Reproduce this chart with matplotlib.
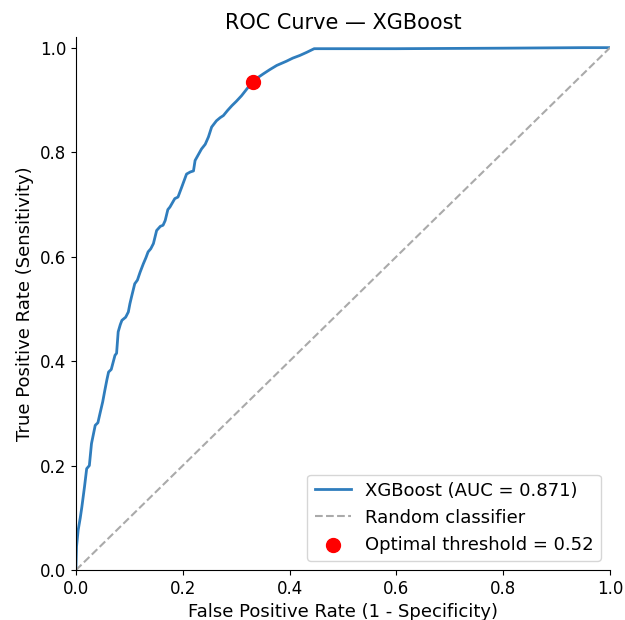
import matplotlib.pyplot as plt

# ROC points
fpr = [0.0, 0.0, 0.001, 0.004, 0.008, 0.011, 0.016, 0.020, 0.025, 0.029, 0.033,
       0.036, 0.041, 0.045, 0.050, 0.054, 0.058, 0.061, 0.066, 0.073, 0.076,
       0.079, 0.083, 0.086, 0.093, 0.098, 0.101, 0.104, 0.110, 0.115, 0.120,
       0.126, 0.131, 0.135, 0.140, 0.145, 0.151, 0.158, 0.163, 0.167, 0.172,
       0.176, 0.185, 0.191, 0.198, 0.207, 0.214, 0.220, 0.223, 0.229, 0.235,
       0.242, 0.248, 0.254, 0.263, 0.270, 0.276, 0.284, 0.292, 0.300, 0.310,
       0.320, 0.331, 0.341, 0.351, 0.363, 0.376, 0.385, 0.394, 0.406, 0.419,
       0.432, 0.440, 0.446, 0.60, 0.80, 0.95, 1.0]
tpr = [0.0, 0.010, 0.045, 0.076, 0.100, 0.121, 0.160, 0.194, 0.200, 0.242, 0.262,
       0.277, 0.282, 0.300, 0.322, 0.344, 0.365, 0.379, 0.384, 0.411, 0.415,
       0.456, 0.470, 0.478, 0.484, 0.494, 0.510, 0.523, 0.548, 0.555, 0.570,
       0.586, 0.598, 0.609, 0.615, 0.625, 0.650, 0.658, 0.660, 0.669, 0.690,
       0.695, 0.711, 0.714, 0.733, 0.758, 0.762, 0.764, 0.784, 0.795, 0.806,
       0.815, 0.829, 0.848, 0.860, 0.866, 0.870, 0.880, 0.889, 0.897, 0.908,
       0.921, 0.935, 0.943, 0.950, 0.958, 0.966, 0.970, 0.974, 0.980, 0.985,
       0.991, 0.995, 0.998, 0.998, 0.999, 1.0, 1.0]

auc_value = 0.871
opt_fpr, opt_tpr = 0.331, 0.935
opt_threshold = 0.52

fig, ax = plt.subplots(figsize=(6.25, 6.2), dpi=100)
fig.subplots_adjust(left=0.1216, right=0.976, bottom=0.0806, top=0.940)

ax.plot(fpr, tpr, color="#2f7dbd", lw=2, label=f"XGBoost (AUC = {auc_value:.3f})")
ax.plot([0, 1], [0, 1], ls="--", color="#aaaaaa", lw=1.5, label="Random classifier")
ax.scatter([opt_fpr], [opt_tpr], s=100, color="red", zorder=5,
           label=f"Optimal threshold = {opt_threshold:.2f}")

ax.set_xlim(0, 1)
ax.set_ylim(0, 1.02)
ax.set_xlabel("False Positive Rate (1 - Specificity)", fontsize=13)
ax.set_ylabel("True Positive Rate (Sensitivity)", fontsize=13)
ax.set_title("ROC Curve — XGBoost", fontsize=15)
ax.tick_params(labelsize=12)
ax.spines["top"].set_visible(False)
ax.spines["right"].set_visible(False)
ax.legend(loc="lower right", fontsize=13)

fig.savefig("out.png")
